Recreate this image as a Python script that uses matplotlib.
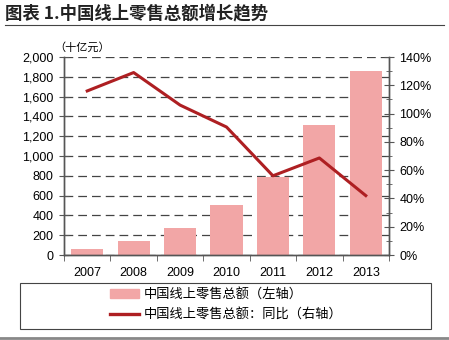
import matplotlib.pyplot as plt
import matplotlib.patches as mpatches
from matplotlib.lines import Line2D
from matplotlib.ticker import FuncFormatter, MultipleLocator

plt.rcParams['font.family'] = ['Liberation Sans', 'Noto Sans CJK SC', 'DejaVu Sans']

years = ["2007", "2008", "2009", "2010", "2011", "2012", "2013"]
sales = [60, 138, 272, 505, 785, 1313, 1859]          # 十亿元
yoy = [116, 129, 106, 90.5, 56, 68.6, 42]             # %

bar_color = "#F2A6A6"
line_color = "#AE1F22"
axis_color = "#555555"
cjk = ['Noto Sans CJK SC', 'DejaVu Sans']

fig = plt.figure(figsize=(4.49, 3.40), dpi=100)
ax = fig.add_axes([64 / 449, 1 - 255 / 340, 325 / 449, 198 / 340])
ax2 = ax.twinx()

x = list(range(len(years)))
ax.bar(x, sales, width=0.69, color=bar_color, zorder=2)
ax.set_xlim(-0.5, len(years) - 0.5)
ax.set_ylim(0, 2000)
ax.yaxis.set_major_locator(MultipleLocator(200))
ax.yaxis.set_major_formatter(FuncFormatter(lambda v, p: f"{int(v):,}"))
ax.grid(axis="y", color="#444444", linestyle=(0, (7, 4)), linewidth=0.9, zorder=0)
ax.set_axisbelow(True)

ax.set_xticks(x)
ax.set_xticklabels(years)
ax.set_xticks([i + 0.5 for i in range(-1, len(years))], minor=True)
ax.tick_params(axis="x", which="major", length=0, pad=9, labelsize=9)
ax.tick_params(axis="x", which="minor", length=4, direction="out", color=axis_color)
ax.tick_params(axis="y", which="major", length=7, direction="inout", color=axis_color, labelsize=9, pad=4)

ax2.plot(x, yoy, color=line_color, linewidth=2.2, zorder=5)
ax2.set_ylim(0, 140)
ax2.yaxis.set_major_locator(MultipleLocator(20))
ax2.yaxis.set_minor_locator(MultipleLocator(10))
ax2.yaxis.set_major_formatter(FuncFormatter(lambda v, p: f"{int(v)}%"))
ax2.tick_params(axis="y", which="major", length=7, direction="inout", color=axis_color, labelsize=9, pad=4)
ax2.tick_params(axis="y", which="minor", length=5, direction="inout", color=axis_color)

for a in (ax, ax2):
    a.spines["top"].set_visible(False)
    for s in ("left", "right", "bottom"):
        a.spines[s].set_color(axis_color)
        a.spines[s].set_linewidth(1.0)

fig.text(54 / 449, 1 - 47 / 340, "（十亿元）", fontsize=8, family=cjk, va="center", ha="left")

# title and rules
fig.text(5 / 449, 1 - 13 / 340, "图表 1.中国线上零售总额增长趋势", fontsize=12.5, fontweight="bold",
         family=cjk, va="center", ha="left", color="#222222")
fig.add_artist(Line2D([5 / 449, 444 / 449], [1 - 25 / 340] * 2, color="#444444", linewidth=0.8))
fig.add_artist(Line2D([0, 1], [1 - 338 / 340] * 2, color="#888888", linewidth=2))

# legend box
fig.add_artist(mpatches.Rectangle((20 / 449, 1 - 329 / 340), 411 / 449, 46 / 340,
                                  fill=False, edgecolor="#444444", linewidth=0.8))
handles = [mpatches.Patch(color=bar_color),
           Line2D([0], [0], color=line_color, linewidth=2.4)]
labels = ["中国线上零售总额（左轴）", "中国线上零售总额：同比（右轴）"]
fig.legend(handles, labels, loc="upper left", bbox_to_anchor=(105 / 449, 1 - 283 / 340),
           frameon=False, prop={"family": cjk, "size": 9.5}, handlelength=2.2,
           handletextpad=0.3, labelspacing=0.55, borderaxespad=0)

fig.savefig("out.png", dpi=100)
